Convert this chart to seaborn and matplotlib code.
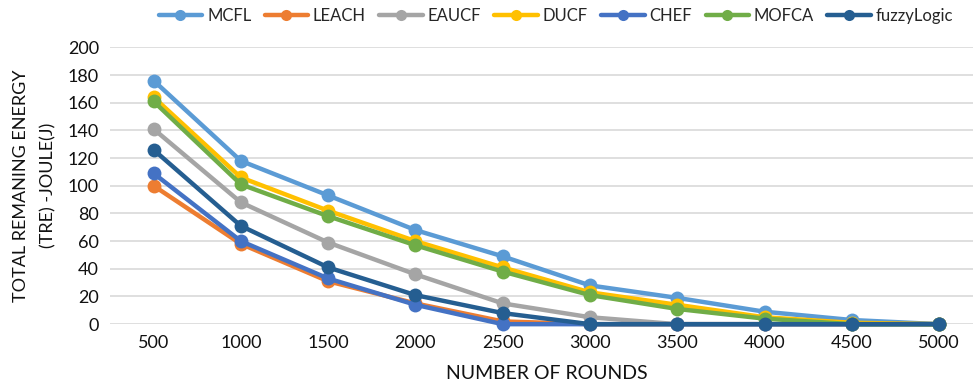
import matplotlib
matplotlib.use("Agg")
import matplotlib.pyplot as plt
import seaborn as sns
import pandas as pd

rounds = ["500", "1000", "1500", "2000", "2500", "3000", "3500", "4000", "4500", "5000"]
mcfl = [176, 118, 93, 68, 49, 28, 19, 9, 3, 0]
leach = [100, 58, 31, 15, 2, 0, 0, 0, 0, 0]
eaucf = [141, 88, 59, 36, 15, 5, 0, 0, 0, 0]
ducf = [164, 106, 82, 60, 41, 23, 14, 5, 1, 0]
chef = [109, 60, 33, 14, 0, 0, 0, 0, 0, 0]
mofca = [161, 101, 78, 57, 38, 21, 11, 4, 0, 0]
fuzzy = [126, 71, 41, 21, 8, 0, 0, 0, 0, 0]

series = {
    "MCFL": mcfl,
    "LEACH": leach,
    "EAUCF": eaucf,
    "DUCF": ducf,
    "CHEF": chef,
    "MOFCA": mofca,
    "fuzzyLogic": fuzzy,
}
colors = ["#5B9BD5", "#ED7D31", "#A5A5A5", "#FFC000", "#4472C4", "#70AD47", "#255E91"]

rows = []
for name, vals in series.items():
    for i, v in enumerate(vals):
        rows.append({"pos": i, "rounds": rounds[i], "energy": v, "method": name})
df = pd.DataFrame(rows)

sns.set_theme(style="white")
plt.rcParams["font.family"] = ["Lato", "DejaVu Sans"]

fig = plt.figure(figsize=(9.73, 3.85), dpi=100)
ax = fig.add_axes([0.113, 0.158, 0.897, 0.719])

sns.lineplot(
    data=df, x="pos", y="energy", hue="method", hue_order=list(series.keys()),
    palette=colors, marker="o", markersize=10, markeredgewidth=0,
    linewidth=3.2, ax=ax, clip_on=False, legend=True, zorder=3,
)

ax.set_xlim(-0.5, 9.5)
ax.set_ylim(0, 200)
ax.set_yticks(range(0, 201, 20))
ax.set_xticks(range(len(rounds)))
ax.set_xticklabels(rounds)
ax.tick_params(axis="both", labelsize=13, colors="#111111", length=0, pad=8)
ax.yaxis.grid(True, color="#D9D9D9", linewidth=1.2)
ax.xaxis.grid(False)
for s in ax.spines.values():
    s.set_visible(False)

ax.set_xlabel("NUMBER OF ROUNDS", fontsize=14, color="#111111", labelpad=10)
ax.set_ylabel("TOTAL REMANING ENERGY\n(TRE) -JOULE(J)", fontsize=13,
              color="#111111", labelpad=8, linespacing=1.85)

handles, labels = ax.get_legend_handles_labels()
leg = ax.legend(handles, labels, loc="center", ncol=7, frameon=False,
                fontsize=12, handlelength=2.6, columnspacing=0.8,
                handletextpad=0.3, markerscale=0.8)
leg.set_bbox_to_anchor((556 / 973, 1 - 16 / 385), transform=fig.transFigure)

fig.savefig("out.png", dpi=100)
